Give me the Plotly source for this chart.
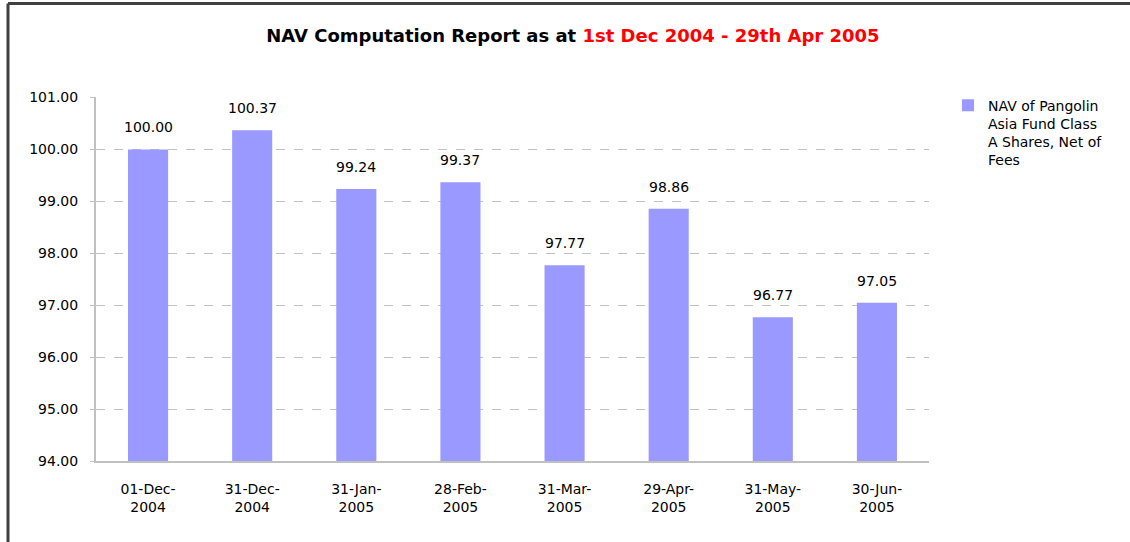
import plotly.graph_objects as go

categories = ["01-Dec-<br>2004", "31-Dec-<br>2004", "31-Jan-<br>2005", "28-Feb-<br>2005",
              "31-Mar-<br>2005", "29-Apr-<br>2005", "31-May-<br>2005", "30-Jun-<br>2005"]
nav_values = [100.00, 100.37, 99.24, 99.37, 97.77, 98.86, 96.77, 97.05]
series_name = "NAV of Pangolin<br>Asia Fund Class<br>A Shares, Net of<br>Fees"
y_ticks = [94, 95, 96, 97, 98, 99, 100, 101]

FONT = "DejaVu Sans, Liberation Sans, Arial, sans-serif"

fig = go.Figure()
fig.add_trace(go.Bar(
    x=categories, y=nav_values, name=series_name,
    marker=dict(color="#9999FF", line=dict(width=0)),
    showlegend=True,
))

for c, v in zip(categories, nav_values):
    fig.add_annotation(x=c, y=v, text=f"{v:.2f}", showarrow=False,
                       yanchor="bottom", yshift=12,
                       font=dict(size=14, family=FONT, color="#000000"))

fig.update_layout(
    width=1130, height=542,
    margin=dict(l=96, r=201, t=97, b=81),
    paper_bgcolor="white", plot_bgcolor="white",
    font=dict(family=FONT, size=14, color="#000000"),
    bargap=0.615,
    title=dict(
        text="<b>NAV Computation Report as at <span style='color:#FF0000'>1st Dec 2004 - 29th Apr 2005</span></b>",
        x=0.507, xanchor="center", y=0.935, yanchor="middle",
        font=dict(size=18, family=FONT, color="#000000"),
    ),
    xaxis=dict(
        showgrid=False, showline=True, linecolor="#C0C0C0", linewidth=2,
        ticks="", tickfont=dict(size=14), ticklabelstandoff=14, fixedrange=True,
    ),
    yaxis=dict(
        range=[94, 101.01], tickvals=y_ticks, tickformat=".2f",
        showgrid=True, gridcolor="#C0C0C0", griddash="dash", gridwidth=1,
        showline=True, linecolor="#C0C0C0", linewidth=2,
        ticks="outside", ticklen=4, tickcolor="#C0C0C0",
        tickfont=dict(size=14), ticklabelstandoff=9, zeroline=False,
    ),
    legend=dict(
        x=(948 - 96) / 833, xanchor="left", y=1.02, yanchor="top",
        font=dict(size=14, family=FONT), bgcolor="rgba(0,0,0,0)",
        itemwidth=30, valign="top",
    ),
    shapes=[
        dict(type="line", xref="paper", yref="paper",
             x0=(8 - 96) / 833, x1=(1140 - 96) / 833,
             y0=1 + (97 - 3.5) / 364, y1=1 + (97 - 3.5) / 364,
             line=dict(color="#404040", width=3)),
        dict(type="line", xref="paper", yref="paper",
             x0=(8 - 96) / 833, x1=(8 - 96) / 833,
             y0=1 + (97 - 3.5) / 364, y1=-0.3,
             line=dict(color="#404040", width=3)),
    ],
)

fig.write_html("out.html", config={"displayModeBar": False},
               post_script="document.body.style.margin='0';")
